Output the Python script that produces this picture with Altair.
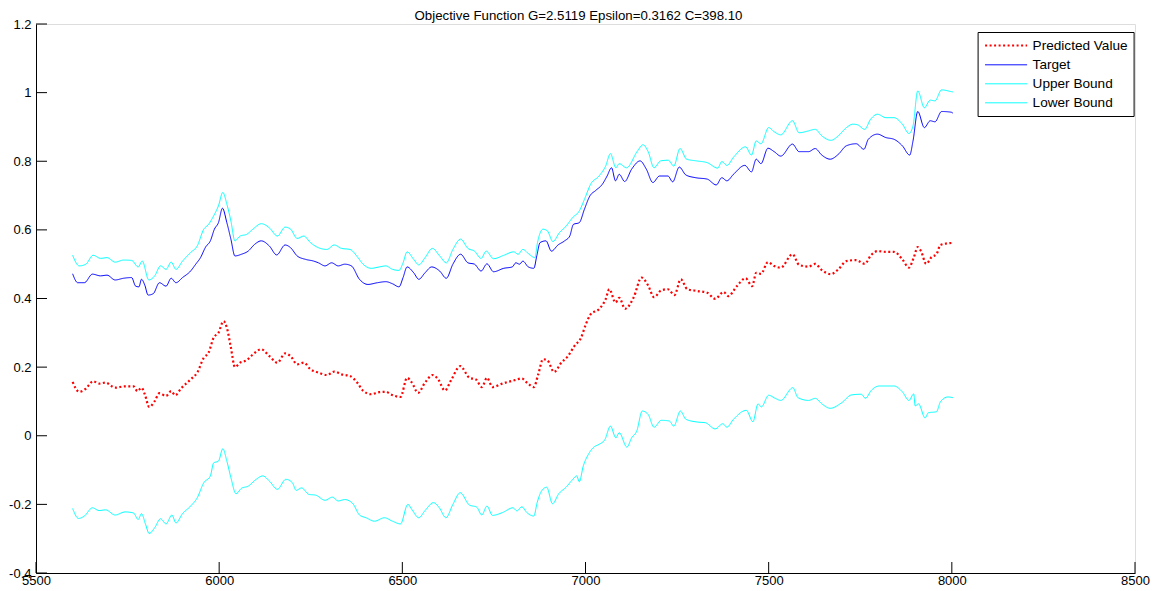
import altair as alt
import pandas as pd

TITLE = "Objective Function G=2.5119 Epsilon=0.3162 C=398.10"
SERIES = ["Predicted Value", "Target", "Upper Bound", "Lower Bound"]
COLORS = ["#ff0000", "#0000ff", "#00ffff", "#00ffff"]
X_TICKS = [5500, 6000, 6500, 7000, 7500, 8000, 8500]
Y_TICKS = [-0.4, -0.2, 0, 0.2, 0.4, 0.6, 0.8, 1.0, 1.2]

pred_x = [5600, 5618, 5636, 5656, 5672, 5690, 5716, 5743, 5766, 5777, 5788, 5797, 5809, 5824, 5837, 5855,
          5869, 5880, 5896, 5922, 5940, 5958, 5971, 5985, 5998, 6012, 6021, 6032, 6043, 6057, 6075, 6092,
          6115, 6137, 6159, 6180, 6195, 6213, 6231, 6249, 6271, 6294, 6314, 6334, 6357, 6379, 6392, 6415,
          6437, 6455, 6468, 6495, 6513, 6526, 6543, 6562, 6583, 6598, 6616, 6634, 6658, 6683, 6701, 6717,
          6731, 6746, 6773, 6807, 6826, 6840, 6859, 6871, 6884, 6896, 6914, 6934, 6952, 6970, 6988, 7001,
          7014, 7037, 7055, 7065, 7082, 7092, 7108, 7131, 7153, 7171, 7187, 7207, 7225, 7243, 7260, 7278,
          7305, 7332, 7354, 7377, 7390, 7413, 7437, 7455, 7466, 7479, 7498, 7515, 7533, 7565, 7583, 7609,
          7627, 7645, 7670, 7690, 7712, 7739, 7762, 7780, 7797, 7820, 7842, 7865, 7883, 7896, 7907, 7916,
          7930, 7945, 7958, 7969, 7991, 8003]
pred_y = [0.157, 0.128, 0.137, 0.159, 0.152, 0.155, 0.140, 0.144, 0.144, 0.130, 0.140, 0.121, 0.084, 0.101,
          0.124, 0.116, 0.130, 0.118, 0.138, 0.164, 0.184, 0.227, 0.242, 0.286, 0.300, 0.334, 0.315, 0.257,
          0.200, 0.213, 0.220, 0.237, 0.252, 0.232, 0.213, 0.240, 0.232, 0.208, 0.213, 0.194, 0.184, 0.177,
          0.187, 0.179, 0.174, 0.152, 0.132, 0.121, 0.127, 0.128, 0.121, 0.113, 0.169, 0.155, 0.125, 0.155,
          0.177, 0.164, 0.132, 0.164, 0.203, 0.169, 0.164, 0.142, 0.169, 0.142, 0.152, 0.162, 0.167, 0.155,
          0.142, 0.179, 0.223, 0.220, 0.186, 0.213, 0.232, 0.262, 0.286, 0.325, 0.354, 0.369, 0.398, 0.427,
          0.388, 0.402, 0.370, 0.402, 0.461, 0.438, 0.404, 0.424, 0.427, 0.410, 0.456, 0.427, 0.422, 0.417,
          0.399, 0.419, 0.407, 0.436, 0.459, 0.436, 0.475, 0.472, 0.506, 0.495, 0.490, 0.529, 0.498, 0.493,
          0.501, 0.483, 0.471, 0.485, 0.509, 0.512, 0.501, 0.527, 0.538, 0.536, 0.536, 0.514, 0.490, 0.519,
          0.550, 0.538, 0.501, 0.521, 0.529, 0.556, 0.561, 0.562]

target_x = [5600, 5614, 5632, 5654, 5676, 5694, 5716, 5739, 5761, 5772, 5781, 5788, 5797, 5806, 5820, 5837,
            5855, 5869, 5882, 5900, 5922, 5936, 5949, 5963, 5976, 5987, 5998, 6009, 6021, 6032, 6043, 6061,
            6079, 6097, 6115, 6137, 6157, 6180, 6195, 6213, 6236, 6258, 6271, 6289, 6307, 6325, 6343, 6361,
            6383, 6406, 6432, 6455, 6473, 6491, 6502, 6513, 6531, 6545, 6562, 6580, 6602, 6620, 6638, 6659,
            6679, 6697, 6715, 6731, 6749, 6777, 6800, 6810, 6820, 6829, 6844, 6859, 6867, 6876, 6892, 6907,
            6925, 6943, 6957, 6967, 6983, 6997, 7012, 7028, 7046, 7059, 7071, 7082, 7092, 7107, 7126, 7149,
            7166, 7184, 7202, 7225, 7238, 7256, 7274, 7301, 7332, 7357, 7372, 7386, 7404, 7435, 7453, 7466,
            7479, 7498, 7515, 7533, 7565, 7583, 7609, 7627, 7645, 7668, 7690, 7712, 7739, 7760, 7772, 7797,
            7820, 7842, 7865, 7885, 7894, 7907, 7925, 7941, 7954, 7972, 7998, 8003]
target_y = [0.472, 0.446, 0.446, 0.471, 0.466, 0.468, 0.454, 0.459, 0.461, 0.436, 0.434, 0.456, 0.439, 0.410,
            0.414, 0.446, 0.436, 0.459, 0.446, 0.461, 0.480, 0.500, 0.519, 0.550, 0.568, 0.602, 0.621, 0.663,
            0.621, 0.573, 0.524, 0.529, 0.538, 0.558, 0.568, 0.553, 0.527, 0.556, 0.548, 0.524, 0.514, 0.509,
            0.504, 0.495, 0.504, 0.495, 0.500, 0.495, 0.456, 0.441, 0.446, 0.449, 0.443, 0.434, 0.461, 0.492,
            0.475, 0.456, 0.475, 0.492, 0.480, 0.459, 0.500, 0.529, 0.504, 0.500, 0.480, 0.501, 0.478, 0.488,
            0.492, 0.504, 0.500, 0.509, 0.492, 0.488, 0.524, 0.563, 0.568, 0.538, 0.556, 0.568, 0.582, 0.616,
            0.621, 0.660, 0.699, 0.715, 0.733, 0.757, 0.781, 0.743, 0.762, 0.741, 0.777, 0.801, 0.777, 0.738,
            0.757, 0.757, 0.740, 0.783, 0.760, 0.752, 0.748, 0.731, 0.752, 0.743, 0.762, 0.788, 0.769, 0.806,
            0.793, 0.838, 0.828, 0.815, 0.850, 0.828, 0.828, 0.837, 0.818, 0.806, 0.820, 0.845, 0.851, 0.835,
            0.864, 0.879, 0.869, 0.864, 0.845, 0.818, 0.859, 0.945, 0.898, 0.918, 0.915, 0.945, 0.943, 0.940]

upper_x = [5600, 5618, 5636, 5656, 5676, 5694, 5716, 5739, 5761, 5779, 5790, 5808, 5824, 5840, 5855, 5869,
           5882, 5900, 5922, 5940, 5958, 5971, 5985, 5998, 6010, 6021, 6032, 6043, 6057, 6075, 6092, 6115,
           6137, 6159, 6180, 6195, 6213, 6231, 6249, 6271, 6294, 6314, 6334, 6357, 6379, 6392, 6415, 6437,
           6455, 6473, 6491, 6502, 6513, 6531, 6545, 6562, 6582, 6602, 6620, 6638, 6659, 6679, 6697, 6715,
           6729, 6749, 6777, 6804, 6816, 6829, 6844, 6862, 6869, 6884, 6896, 6911, 6929, 6947, 6965, 6983,
           6999, 7014, 7037, 7055, 7068, 7083, 7092, 7112, 7142, 7157, 7171, 7187, 7205, 7226, 7241, 7258,
           7276, 7303, 7332, 7361, 7372, 7386, 7405, 7437, 7453, 7466, 7479, 7500, 7515, 7533, 7565, 7583,
           7607, 7627, 7645, 7670, 7690, 7712, 7730, 7743, 7762, 7778, 7797, 7820, 7842, 7865, 7883, 7894,
           7907, 7925, 7941, 7954, 7972, 7998, 8003]
upper_y = [0.526, 0.495, 0.500, 0.526, 0.517, 0.519, 0.506, 0.512, 0.511, 0.492, 0.509, 0.454, 0.466, 0.495,
           0.485, 0.506, 0.485, 0.509, 0.534, 0.553, 0.602, 0.616, 0.641, 0.670, 0.709, 0.675, 0.626, 0.568,
           0.582, 0.587, 0.602, 0.618, 0.606, 0.582, 0.608, 0.602, 0.575, 0.582, 0.563, 0.548, 0.543, 0.556,
           0.546, 0.543, 0.519, 0.501, 0.488, 0.492, 0.495, 0.485, 0.482, 0.504, 0.536, 0.514, 0.498, 0.519,
           0.546, 0.524, 0.504, 0.543, 0.573, 0.546, 0.538, 0.517, 0.538, 0.516, 0.526, 0.536, 0.529, 0.543,
           0.531, 0.519, 0.563, 0.602, 0.597, 0.566, 0.592, 0.611, 0.636, 0.655, 0.694, 0.733, 0.757, 0.786,
           0.822, 0.781, 0.793, 0.781, 0.830, 0.848, 0.828, 0.781, 0.801, 0.803, 0.786, 0.837, 0.806, 0.801,
           0.796, 0.780, 0.799, 0.788, 0.813, 0.842, 0.818, 0.859, 0.851, 0.898, 0.886, 0.877, 0.918, 0.883,
           0.888, 0.893, 0.874, 0.861, 0.874, 0.898, 0.908, 0.906, 0.893, 0.922, 0.937, 0.927, 0.927, 0.908,
           0.881, 0.903, 1.005, 0.956, 0.978, 0.976, 1.008, 1.003, 1.002]

lower_x = [5600, 5616, 5632, 5654, 5672, 5690, 5716, 5743, 5766, 5779, 5788, 5799, 5809, 5824, 5840, 5855,
           5871, 5882, 5900, 5922, 5940, 5958, 5976, 5985, 5998, 6010, 6021, 6032, 6046, 6061, 6079, 6101,
           6119, 6137, 6159, 6182, 6200, 6210, 6225, 6245, 6263, 6289, 6309, 6325, 6343, 6365, 6383, 6401,
           6424, 6451, 6473, 6495, 6515, 6526, 6545, 6562, 6585, 6601, 6619, 6638, 6658, 6683, 6703, 6717,
           6731, 6746, 6773, 6802, 6813, 6826, 6840, 6859, 6868, 6880, 6894, 6910, 6927, 6947, 6963, 6976,
           6983, 6994, 7008, 7023, 7037, 7053, 7068, 7083, 7092, 7113, 7126, 7140, 7155, 7171, 7187, 7207,
           7229, 7241, 7259, 7274, 7305, 7327, 7354, 7375, 7386, 7404, 7439, 7457, 7471, 7480, 7500, 7518,
           7533, 7566, 7580, 7609, 7627, 7645, 7668, 7699, 7726, 7753, 7764, 7780, 7802, 7842, 7865, 7883,
           7896, 7900, 7909, 7927, 7936, 7958, 7969, 7989, 8003]
lower_y = [-0.212, -0.241, -0.234, -0.210, -0.218, -0.216, -0.231, -0.222, -0.225, -0.244, -0.227, -0.258,
           -0.285, -0.268, -0.242, -0.257, -0.231, -0.254, -0.227, -0.205, -0.181, -0.137, -0.117, -0.079,
           -0.074, -0.038, -0.074, -0.122, -0.169, -0.153, -0.147, -0.127, -0.117, -0.132, -0.156, -0.127,
           -0.137, -0.159, -0.152, -0.171, -0.173, -0.188, -0.179, -0.190, -0.186, -0.198, -0.231, -0.239,
           -0.249, -0.239, -0.249, -0.257, -0.200, -0.215, -0.239, -0.218, -0.195, -0.210, -0.239, -0.200,
           -0.166, -0.202, -0.208, -0.231, -0.205, -0.232, -0.224, -0.210, -0.219, -0.207, -0.224, -0.234,
           -0.195, -0.161, -0.150, -0.198, -0.169, -0.150, -0.130, -0.117, -0.134, -0.088, -0.054, -0.033,
           -0.025, -0.011, 0.028, -0.006, 0.009, -0.033, -0.006, 0.014, 0.072, 0.062, 0.025, 0.045, 0.043,
           0.028, 0.072, 0.048, 0.040, 0.038, 0.020, 0.035, 0.025, 0.048, 0.074, 0.041, 0.093, 0.084, 0.118,
           0.109, 0.103, 0.140, 0.111, 0.103, 0.109, 0.093, 0.080, 0.096, 0.119, 0.121, 0.109, 0.132, 0.145,
           0.145, 0.128, 0.103, 0.122, 0.087, 0.093, 0.052, 0.067, 0.070, 0.099, 0.113, 0.111]

rows = []
for name, xs, ys in zip(SERIES, [pred_x, target_x, upper_x, lower_x], [pred_y, target_y, upper_y, lower_y]):
    for xv, yv in zip(xs, ys):
        rows.append({"series": name, "x": xv, "y": yv})
df = pd.DataFrame(rows)

W = 1099
H = 549
FONT = "Liberation Sans"
LEFT = 35.4  # approximate left edge of plot area on page

x_scale = alt.Scale(domain=[5500, 8500], nice=False, zero=False)
y_scale = alt.Scale(domain=[-0.4, 1.2], nice=False, zero=False)

legend = alt.Legend(title=None, orient="none", legendX=977 - LEFT, legendY=31 - 23,
                    symbolType="M-1,0H6", symbolSize=144, symbolStrokeWidth=1.5,
                    labelFontSize=13.6, labelFont=FONT, labelColor="#000000",
                    labelOffset=34, padding=6, rowPadding=4,
                    strokeColor="#000000", fillColor="#ffffff", cornerRadius=0)

lines = alt.Chart(df).mark_line(strokeCap="butt", strokeJoin="round", interpolate="monotone").encode(
    x=alt.X("x:Q", scale=x_scale,
            axis=alt.Axis(values=X_TICKS, format="d", title=None, grid=False, ticks=False, tickSize=0,
                          labelPadding=1, labelFlush=False, domainColor="#000000", domainWidth=1,
                          labelColor="#000000", labelFontSize=13, labelFont=FONT)),
    y=alt.Y("y:Q", scale=y_scale,
            axis=alt.Axis(values=Y_TICKS, title=None, grid=False, ticks=False, tickSize=0,
                          labelExpr="replace(format(datum.value, '.1~f'), '\u2212', '-')",
                          labelPadding=5, domainColor="#000000", domainWidth=1,
                          labelColor="#000000", labelFontSize=13, labelFont=FONT)),
    color=alt.Color("series:N", sort=SERIES, scale=alt.Scale(domain=SERIES, range=COLORS), legend=legend),
    strokeDash=alt.StrokeDash("series:N", sort=SERIES,
                              scale=alt.Scale(domain=SERIES, range=[[2, 2.5], [1, 0], [1, 0], [1, 0]]),
                              legend=legend),
    strokeWidth=alt.StrokeWidth("series:N", sort=SERIES,
                                scale=alt.Scale(type="ordinal", domain=SERIES, range=[2.2, 1.0, 1.0, 1.0]),
                                legend=None),
)

xt = pd.DataFrame({"x": X_TICKS})
yt = pd.DataFrame({"y": Y_TICKS})
xticks = alt.Chart(xt).mark_rule(color="#000000", strokeWidth=1).encode(
    x=alt.X("x:Q", scale=x_scale), y=alt.value(H), y2=alt.value(H - 11))
yticks = alt.Chart(yt).mark_rule(color="#000000", strokeWidth=1).encode(
    y=alt.Y("y:Q", scale=y_scale), x=alt.value(0), x2=alt.value(11))

chart = alt.layer(lines, xticks, yticks).properties(
    width=W, height=H,
    title=alt.TitleParams(TITLE, font=FONT, fontSize=13.25, fontWeight="normal", color="#000000",
                          offset=-5, anchor="middle", frame="group", dx=-7),
    padding={"left": 0, "top": 0, "right": 0, "bottom": 0},
).configure_view(stroke=None).configure(background="#ffffff")

chart.save("out.html", embed_options={"renderer": "svg", "actions": False})
